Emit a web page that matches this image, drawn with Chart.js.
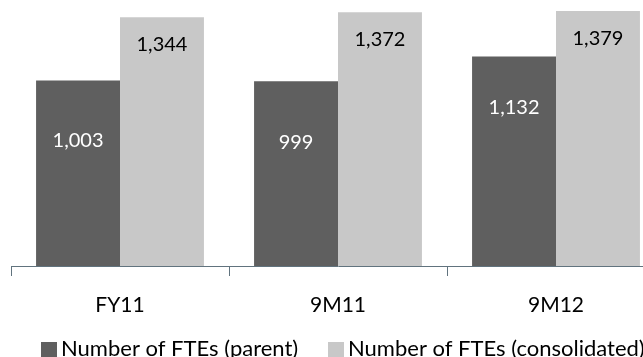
<!DOCTYPE html>
<html>
<head>
<meta charset="utf-8">
<script src="https://cdn.jsdelivr.net/npm/chart.js@4.4.1/dist/chart.umd.min.js"></script>
<style>
  html, body { margin: 0; padding: 0; background: #fff; overflow: hidden; }
  #wrap { width: 700px; height: 357px; }
</style>
</head>
<body>
<div id="wrap"><canvas id="fte" width="700" height="357"></canvas></div>
<script>
const periods = ['FY11', '9M11', '9M12'];
const ftesParent = [1003, 999, 1132];
const ftesConsolidated = [1344, 1372, 1379];
const seriesNames = ['Number of FTEs (parent)', 'Number of FTEs (consolidated)'];

const FONT = 'Lato, "Noto Sans", sans-serif';
const DARK = '#5f5f5f';
const LIGHT = '#c8c8c8';
const AXIS = '#61737e';

// how far below the top of each bar its number sits
const labelDrop = [[60, 61, 51], [27, 27, 28]];
const labelColors = ['#ffffff', '#000000'];

const valueLabels = {
    id: 'valueLabels',
    afterDatasetsDraw(chart) {
        const ctx = chart.ctx;
        ctx.save();
        ctx.font = '20px ' + FONT;
        ctx.textAlign = 'center';
        ctx.textBaseline = 'middle';
        chart.data.datasets.forEach((ds, i) => {
            chart.getDatasetMeta(i).data.forEach((bar, j) => {
                ctx.fillStyle = labelColors[i];
                ctx.fillText(ds.data[j].toLocaleString('en-US'), bar.x, bar.y + labelDrop[i][j]);
            });
        });
        ctx.restore();
    }
};

// flat legend row: small square, tight gap, then the series name
const legendSpots = [{ box: 41, text: 61 }, { box: 328, text: 348 }];
const flatLegend = {
    id: 'flatLegend',
    afterDraw(chart) {
        const ctx = chart.ctx;
        ctx.save();
        ctx.font = '22px ' + FONT;
        ctx.textBaseline = 'alphabetic';
        chart.data.datasets.forEach((ds, i) => {
            const spot = legendSpots[i];
            ctx.fillStyle = ds.backgroundColor;
            ctx.fillRect(spot.box, 342, 16, 15);
            ctx.fillStyle = '#000';
            ctx.fillText(ds.label, spot.text, 356);
        });
        ctx.restore();
    }
};

new Chart(document.getElementById('fte').getContext('2d'), {
    type: 'bar',
    data: {
        labels: periods,
        datasets: [
            { label: seriesNames[0], data: ftesParent, backgroundColor: DARK, borderWidth: 0, barPercentage: 1, categoryPercentage: 0.77 },
            { label: seriesNames[1], data: ftesConsolidated, backgroundColor: LIGHT, borderWidth: 0, barPercentage: 1, categoryPercentage: 0.77 }
        ]
    },
    options: {
        responsive: false,
        animation: false,
        layout: { padding: { left: 11, right: 35, top: 7, bottom: 0 } },
        scales: {
            x: {
                grid: { display: true, drawOnChartArea: false, drawTicks: true, tickLength: 10, color: AXIS, offset: true },
                border: { display: true, color: AXIS, width: 1 },
                ticks: { color: '#000', font: { family: FONT, size: 21 }, padding: 17 },
                afterFit(scale) { scale.height = 91; }
            },
            y: { display: false, min: 0, max: 1400 }
        },
        plugins: { legend: { display: false }, tooltip: { enabled: false } }
    },
    plugins: [valueLabels, flatLegend]
});
</script>
</body>
</html>
